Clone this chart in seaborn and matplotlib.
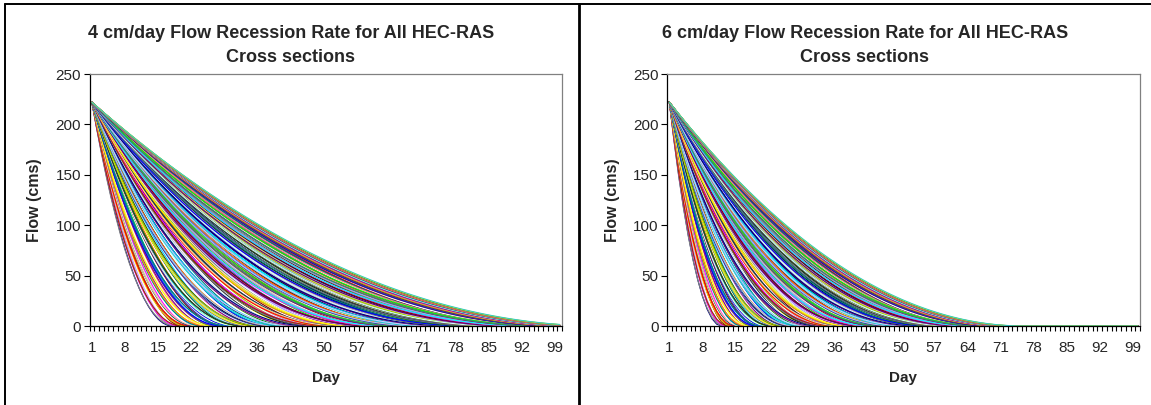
import numpy as np
import pandas as pd
import matplotlib
matplotlib.use("Agg")
import matplotlib.pyplot as plt
from matplotlib.lines import Line2D
import seaborn as sns

# --- data ---
days = np.arange(1, 101)                 # Excel category axis, day 1..100
tick_days = list(range(1, 100, 7))       # 1, 8, 15 ... 99
peak_flow = 222                          # cms, all sections start here on day 1
n_sections = 240                         # HEC-RAS cross sections drawn per panel
# Q/Q0 = (1 - (t-1)/T)^b ; b varies a little from section to section
shape_exponents = [2.0, 1.85, 2.15, 1.9, 2.1, 1.8, 2.2, 1.95, 2.05]
# days T until flow reaches zero: (fastest section, slowest section)
recession_4cm = (17, 108)
recession_6cm = (11, 75)
title_lines = [("4 cm/day Flow Recession Rate for All HEC-RAS", "Cross sections"),
               ("6 cm/day Flow Recession Rate for All HEC-RAS", "Cross sections")]

# Excel 2003 chart line colours
excel_colors = ["#000080", "#FF00FF", "#FFFF00", "#00FFFF", "#800080", "#800000",
                "#008080", "#0000FF", "#00CCFF", "#CCFFFF", "#CCFFCC", "#FFFF99",
                "#99CCFF", "#FF99CC", "#CC99FF", "#FFCC99", "#3366FF", "#33CCCC",
                "#99CC00", "#FFCC00", "#FF9900", "#FF6600", "#666699", "#969696",
                "#003366", "#339966", "#003300", "#333300", "#993300", "#993366",
                "#333399", "#333333", "#000000", "#FF0000", "#00FF00", "#0000FF",
                "#FFFF00", "#FF00FF", "#00FFFF", "#800000", "#008000", "#000080",
                "#808000", "#800080", "#008080", "#C0C0C0", "#808080", "#9999FF",
                "#993366", "#FFFFCC", "#CCFFFF", "#660066", "#FF8080", "#0066CC",
                "#CCCCFF"]


def recession_frame(t_range):
    rows = []
    lengths = np.linspace(t_range[0], t_range[1], n_sections)
    for k, T in enumerate(lengths):
        b = shape_exponents[k % len(shape_exponents)]
        if k >= n_sections - 25:
            b = 2.0  # keep the upper envelope clean
        s = np.clip((days - 1) / T, 0, 1)
        q = peak_flow * (1 - s) ** b
        rows.append(pd.DataFrame({"day": days, "flow": q, "section": k}))
    return pd.concat(rows, ignore_index=True)


sns.set_style("white")
plt.rcParams["font.family"] = ["Liberation Sans", "DejaVu Sans"]

fig = plt.figure(figsize=(11.51, 4.05), dpi=100)
W, H = 1151, 405
# sections are listed by river station, not by recession length, so neighbouring
# curves get unrelated colours
n_col = len(excel_colors)
palette = [excel_colors[(k * 23 + (k // n_col) * 7) % n_col] for k in range(n_sections)]
palette[-1] = "#33CCCC"
palette[-3] = "#003300"

panels = [(89.5, 562, 291, recession_4cm), (667, 1140, 865, recession_6cm)]
for (x0, x1, title_x, t_range), (t1, t2) in zip(panels, title_lines):
    ax = fig.add_axes([x0 / W, (H - 326) / H, (x1 - x0) / W, 252 / H])
    df = recession_frame(t_range)
    sns.lineplot(data=df, x="day", y="flow", hue="section", palette=palette,
                 legend=False, lw=0.8, estimator=None, ax=ax)
    ax.set_xlim(0.5, 100.5)
    ax.set_ylim(0, 250)
    ax.set_yticks(range(0, 251, 50))
    ax.set_xticks(tick_days)
    ax.set_xticks(np.arange(0.5, 101, 1), minor=True)
    ax.tick_params(axis="x", which="major", length=0, pad=11, labelsize=11)
    ax.tick_params(axis="x", which="minor", length=3.5, width=0.8,
                   direction="out", color="#000000", bottom=True)
    ax.tick_params(axis="y", length=4, width=0.8, direction="out",
                   color="#000000", left=True, labelsize=11, pad=2)
    for side in ["top", "right"]:
        ax.spines[side].set_color("#808080")
        ax.spines[side].set_linewidth(0.9)
    for side in ["left", "bottom"]:
        ax.spines[side].set_color("#000000")
        ax.spines[side].set_linewidth(0.9)
    ax.set_xlabel("Day", fontsize=11, fontweight="bold", labelpad=11)
    ax.set_ylabel("")
    fig.text(35 / W + (x0 - 89.5) / W, 1 - 200 / H, "Flow (cms)", rotation=90,
             ha="center", va="center", fontsize=11.5, fontweight="bold")
    fig.text(title_x / W, 1 - 34 / H, t1, ha="center", va="center",
             fontsize=13, fontweight="bold")
    fig.text(title_x / W, 1 - 57 / H, t2, ha="center", va="center",
             fontsize=13, fontweight="bold")

# chart-area frame lines as in the pasted Excel charts
frame = dict(color="black", lw=1.4, transform=fig.transFigure)
fig.add_artist(Line2D([5 / W, 1], [1 - 4 / H, 1 - 4 / H], **frame))
fig.add_artist(Line2D([5 / W, 5 / W], [0, 1 - 4 / H], **frame))
fig.add_artist(Line2D([578.5 / W, 578.5 / W], [0, 1 - 4 / H], color="black",
                      lw=2, transform=fig.transFigure))

fig.savefig("out.png", dpi=100)
